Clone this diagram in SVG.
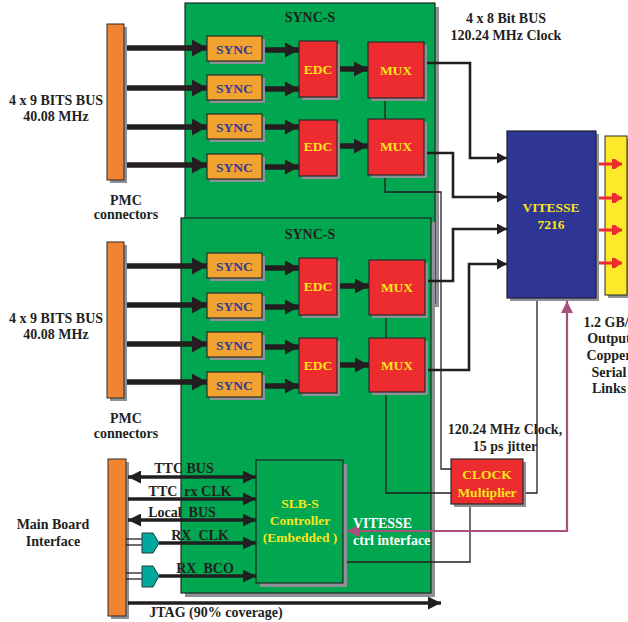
<svg xmlns="http://www.w3.org/2000/svg" width="628" height="622" viewBox="0 0 628 622">
<style>
text{font-family:"Liberation Serif","Times New Roman",serif;font-weight:bold;}
.lbl{font-size:14px;fill:#231f20;text-anchor:middle;}
.shd{fill:#8e9196;}
.board{fill:#00a650;stroke:#1f2a22;stroke-width:1.2;}
.bar{fill:#f08433;stroke:#2b2b2b;stroke-width:1;}
.sync{fill:#f2a22e;stroke:#2b2b2b;stroke-width:1.2;}
.red{fill:#ec2c2e;stroke:#2b2b2b;stroke-width:1.2;}
.synct{font-size:13.5px;fill:#2e3b97;text-anchor:middle;}
.yt{font-size:13.5px;fill:#f9e51c;text-anchor:middle;}
.thick{stroke:#231f20;stroke-width:5.5;fill:none;}
.med{stroke:#231f20;stroke-width:2.6;fill:none;}
.thin{stroke:#231f20;stroke-width:1.3;fill:none;}
.bot{stroke:#231f20;stroke-width:3.5;fill:none;}
.buf{fill:#00a99d;stroke:#1f3a38;stroke-width:1;}
.redl{stroke:#ec2c2e;stroke-width:3;fill:none;}
</style>
<defs>
<marker id="ah" markerUnits="userSpaceOnUse" markerWidth="15" markerHeight="17" refX="15" refY="8.5" orient="auto"><path d="M0,0 L15,8.5 L0,17 z" fill="#231f20"/></marker>
<marker id="am" markerUnits="userSpaceOnUse" markerWidth="14" markerHeight="15" refX="14" refY="7.5" orient="auto"><path d="M0,0 L14,7.5 L0,15 z" fill="#231f20"/></marker>
<marker id="as" markerUnits="userSpaceOnUse" markerWidth="10" markerHeight="11" refX="10" refY="5.5" orient="auto"><path d="M0,0 L10,5.5 L0,11 z" fill="#231f20"/></marker>
<marker id="ab" markerUnits="userSpaceOnUse" markerWidth="13" markerHeight="13" refX="13" refY="6.5" orient="auto-start-reverse"><path d="M0,0 L13,6.5 L0,13 z" fill="#231f20"/></marker>
<marker id="ar" markerUnits="userSpaceOnUse" markerWidth="10" markerHeight="10" refX="10" refY="5" orient="auto"><path d="M0,0 L3,0 L10,5 L3,10 L0,10 z" fill="#ec2c2e"/></marker>
<marker id="ap" markerUnits="userSpaceOnUse" markerWidth="12" markerHeight="12" refX="12" refY="6" orient="auto-start-reverse"><path d="M0,0 L12,6 L0,12 z" fill="#a8507e"/></marker>
</defs>

<!-- Board 1 -->
<g id="board1">
<rect class="shd" x="189" y="7" width="250" height="300"/>
<rect class="board" x="185" y="3" width="250" height="300"/>
<text class="lbl" x="310" y="22" fill="#1a2a20">SYNC-S</text>
</g>

<!-- Board 2 -->
<g id="board2">
<rect class="shd" x="185" y="222" width="250" height="375"/>
<rect class="board" x="181" y="218" width="250" height="375"/>
<text class="lbl" x="310" y="239">SYNC-S</text>
</g>

<!-- Orange bars -->
<g id="pmc1"><rect class="shd" x="110" y="27" width="17" height="156"/><rect class="bar" x="107" y="24" width="17" height="156"/></g>
<g id="pmc2"><rect class="shd" x="110" y="245" width="17" height="156"/><rect class="bar" x="107" y="242" width="17" height="156"/></g>
<g id="mbi"><rect class="shd" x="111" y="462" width="18" height="157"/><rect class="bar" x="108" y="459" width="18" height="157"/></g>

<!-- Yellow output bar -->
<g id="outbar"><rect class="shd" x="608" y="139" width="22" height="159"/><rect fill="#fde92a" stroke="#2b2b2b" stroke-width="1" x="605" y="136" width="22" height="159"/></g>

<!-- connectors -->
<g id="connectors">
<line class="thick" x1="127" y1="48" x2="207" y2="48" marker-end="url(#ah)"/>
<line class="thick" x1="127" y1="88" x2="207" y2="88" marker-end="url(#ah)"/>
<line class="thick" x1="127" y1="127" x2="207" y2="127" marker-end="url(#ah)"/>
<line class="thick" x1="127" y1="165" x2="207" y2="165" marker-end="url(#ah)"/>
<line class="thick" x1="127" y1="266" x2="207" y2="266" marker-end="url(#ah)"/>
<line class="thick" x1="127" y1="305" x2="207" y2="305" marker-end="url(#ah)"/>
<line class="thick" x1="127" y1="344" x2="207" y2="344" marker-end="url(#ah)"/>
<line class="thick" x1="127" y1="382" x2="207" y2="382" marker-end="url(#ah)"/>

<line class="thick" x1="264" y1="50" x2="299" y2="50" marker-end="url(#am)"/>
<line class="thick" x1="264" y1="89" x2="299" y2="89" marker-end="url(#am)"/>
<line class="thick" x1="264" y1="127" x2="299" y2="127" marker-end="url(#am)"/>
<line class="thick" x1="264" y1="167" x2="299" y2="167" marker-end="url(#am)"/>
<line class="thick" x1="264" y1="268" x2="299" y2="268" marker-end="url(#am)"/>
<line class="thick" x1="264" y1="307" x2="299" y2="307" marker-end="url(#am)"/>
<line class="thick" x1="264" y1="347" x2="299" y2="347" marker-end="url(#am)"/>
<line class="thick" x1="264" y1="386" x2="299" y2="386" marker-end="url(#am)"/>

<line class="thick" x1="337" y1="69" x2="368" y2="69" marker-end="url(#am)"/>
<line class="thick" x1="337" y1="146" x2="368" y2="146" marker-end="url(#am)"/>
<line class="thick" x1="337" y1="286" x2="369" y2="286" marker-end="url(#am)"/>
<line class="thick" x1="337" y1="365" x2="369" y2="365" marker-end="url(#am)"/>

<line class="thin" x1="385" y1="98" x2="385" y2="119"/>
<line class="thin" x1="386" y1="315" x2="386" y2="338"/>
<polyline class="thin" points="385,175 385,192 441,192 441,469 451,469"/>
<polyline class="thin" points="386,392 386,493 451,493"/>
<polyline class="thin" points="523,493 537,493 537,300"/>
<polyline class="thin" points="470,504 470,562 347,562"/>

<polyline class="med" points="424,63 470,63 470,158 507,158" marker-end="url(#as)"/>
<polyline class="med" points="424,153 453,153 453,197 507,197" marker-end="url(#as)"/>
<polyline class="med" points="424,281 453,281 453,229 507,229" marker-end="url(#as)"/>
<polyline class="med" points="424,370 469,370 469,264 507,264" marker-end="url(#as)"/>

<line class="redl" x1="597" y1="164" x2="622" y2="164" marker-end="url(#ar)"/>
<line class="redl" x1="597" y1="198" x2="622" y2="198" marker-end="url(#ar)"/>
<line class="redl" x1="597" y1="230" x2="622" y2="230" marker-end="url(#ar)"/>
<line class="redl" x1="597" y1="263" x2="622" y2="263" marker-end="url(#ar)"/>

<polyline fill="none" stroke="#a8507e" stroke-width="2.2" points="567,301 567,531 347,531" marker-start="url(#ap)" marker-end="url(#ap)"/>

<line class="bot" stroke-width="4" x1="128" y1="477" x2="256" y2="477" marker-start="url(#ab)" marker-end="url(#ab)"/>
<line class="bot" stroke-width="3" x1="128" y1="499" x2="256" y2="499" marker-end="url(#ab)"/>
<line class="bot" stroke-width="4" x1="128" y1="520" x2="256" y2="520" marker-start="url(#ab)" marker-end="url(#ab)"/>
<line class="bot" stroke-width="3" x1="159" y1="543" x2="256" y2="543" marker-end="url(#ab)"/>
<line class="bot" stroke-width="3" x1="159" y1="576" x2="256" y2="576" marker-end="url(#ab)"/>
<line class="thin" x1="126" y1="539" x2="142" y2="539"/>
<line class="thin" x1="126" y1="545" x2="142" y2="545"/>
<line class="thin" x1="126" y1="573" x2="142" y2="573"/>
<line class="thin" x1="126" y1="579" x2="142" y2="579"/>
<line class="bot" stroke-width="3" x1="128" y1="603" x2="441" y2="603" marker-end="url(#ab)"/>
</g>

<!-- SYNC boxes -->
<g id="sync1"><rect class="shd" x="210" y="39" width="55" height="25"/><rect class="sync" x="207" y="36" width="55" height="25"/><text class="synct" x="234.5" y="53.5">SYNC</text></g>
<g id="sync2"><rect class="shd" x="210" y="78" width="55" height="25"/><rect class="sync" x="207" y="75" width="55" height="25"/><text class="synct" x="234.5" y="92.5">SYNC</text></g>
<g id="sync3"><rect class="shd" x="210" y="117" width="55" height="25"/><rect class="sync" x="207" y="114" width="55" height="25"/><text class="synct" x="234.5" y="131.5">SYNC</text></g>
<g id="sync4"><rect class="shd" x="210" y="157" width="55" height="25"/><rect class="sync" x="207" y="154" width="55" height="25"/><text class="synct" x="234.5" y="171.5">SYNC</text></g>
<g id="sync5"><rect class="shd" x="210" y="256" width="55" height="25"/><rect class="sync" x="207" y="253" width="55" height="25"/><text class="synct" x="234.5" y="270.5">SYNC</text></g>
<g id="sync6"><rect class="shd" x="210" y="296" width="55" height="25"/><rect class="sync" x="207" y="293" width="55" height="25"/><text class="synct" x="234.5" y="310.5">SYNC</text></g>
<g id="sync7"><rect class="shd" x="210" y="335" width="55" height="25"/><rect class="sync" x="207" y="332" width="55" height="25"/><text class="synct" x="234.5" y="349.5">SYNC</text></g>
<g id="sync8"><rect class="shd" x="210" y="375" width="55" height="25"/><rect class="sync" x="207" y="372" width="55" height="25"/><text class="synct" x="234.5" y="389.5">SYNC</text></g>

<!-- EDC -->
<g id="edc1"><rect class="shd" x="302" y="44" width="38" height="56"/><rect class="red" x="299" y="41" width="38" height="56"/><text class="yt" x="318" y="74">EDC</text></g>
<g id="edc2"><rect class="shd" x="302" y="123" width="38" height="56"/><rect class="red" x="299" y="120" width="38" height="56"/><text class="yt" x="318" y="150.5">EDC</text></g>
<g id="edc3"><rect class="shd" x="302" y="261" width="38" height="57"/><rect class="red" x="299" y="258" width="38" height="57"/><text class="yt" x="318" y="290.5">EDC</text></g>
<g id="edc4"><rect class="shd" x="302" y="341" width="38" height="55"/><rect class="red" x="299" y="338" width="38" height="55"/><text class="yt" x="318" y="369.5">EDC</text></g>

<!-- MUX -->
<g id="mux1"><rect class="shd" x="371" y="45" width="56" height="56"/><rect class="red" x="368" y="42" width="56" height="56"/><text class="yt" x="396" y="74.5">MUX</text></g>
<g id="mux2"><rect class="shd" x="371" y="122" width="56" height="56"/><rect class="red" x="368" y="119" width="56" height="56"/><text class="yt" x="396" y="150.5">MUX</text></g>
<g id="mux3"><rect class="shd" x="372" y="263" width="56" height="55"/><rect class="red" x="369" y="260" width="56" height="55"/><text class="yt" x="397" y="291.5">MUX</text></g>
<g id="mux4"><rect class="shd" x="372" y="341" width="56" height="54"/><rect class="red" x="369" y="338" width="56" height="54"/><text class="yt" x="397" y="369.5">MUX</text></g>

<!-- VITESSE -->
<g id="vitesse"><rect class="shd" x="510" y="134" width="89" height="167"/><rect fill="#2e3592" stroke="#1e1e3a" stroke-width="1.2" x="507" y="131" width="89" height="167"/><text class="yt" x="551" y="212">VITESSE</text><text class="yt" x="551" y="229">7216</text></g>

<!-- CLOCK Multiplier -->
<g id="clock"><rect class="shd" x="454" y="462" width="72" height="45"/><rect class="red" x="451" y="459" width="72" height="45"/><text class="yt" x="487" y="479">CLOCK</text><text class="yt" x="487" y="497">Multiplier</text></g>

<!-- SLB-S -->
<g id="slbs"><rect class="shd" x="260" y="464" width="87" height="123"/><rect class="board" x="256" y="460" width="87" height="123"/><text class="yt" x="300" y="508">SLB-S</text><text class="yt" x="300" y="525">Controller</text><text class="yt" x="300" y="542" xml:space="preserve">(Embedded )</text></g>

<!-- buffers -->
<g id="buf1"><path class="buf" d="M142,533 L153,533 L159,543 L153,553 L142,553 z"/></g>
<g id="buf2"><path class="buf" d="M142,566 L153,566 L159,576 L153,587 L142,587 z"/></g>

<!-- labels -->
<g id="labels">
<text class="lbl" x="56" y="105">4 x 9 BITS BUS</text>
<text class="lbl" x="56" y="121">40.08 MHz</text>
<text class="lbl" x="126" y="205" font-size="12.5">PMC</text>
<text class="lbl" x="126" y="219" font-size="12.5">connectors</text>
<text class="lbl" x="56" y="323">4 x 9 BITS BUS</text>
<text class="lbl" x="56" y="339">40.08 MHz</text>
<text class="lbl" x="126" y="423" font-size="12.5">PMC</text>
<text class="lbl" x="126" y="438" font-size="12.5">connectors</text>
<text class="lbl" x="506" y="23">4 x 8 Bit BUS</text>
<text class="lbl" x="506" y="40">120.24 MHz Clock</text>
<text class="lbl" x="505" y="434">120.24 MHz Clock,</text>
<text class="lbl" x="505" y="451">15 ps jitter</text>
<text class="lbl" x="583.5" y="327" style="text-anchor:start">1.2 GB/</text>
<text class="lbl" x="609" y="343">Output</text>
<text class="lbl" x="609" y="360">Copper</text>
<text class="lbl" x="609" y="377">Serial</text>
<text class="lbl" x="609" y="393">Links</text>
<text class="lbl" x="53" y="529">Main Board</text>
<text class="lbl" x="53" y="546">Interface</text>
<text class="lbl" x="184" y="473">TTC BUS</text>
<text class="lbl" x="190" y="496" xml:space="preserve">TTC  rx CLK</text>
<text class="lbl" x="182" y="517" xml:space="preserve">Local  BUS</text>
<text class="lbl" x="200" y="540" xml:space="preserve">RX  CLK</text>
<text class="lbl" x="205" y="573" xml:space="preserve">RX  BCO</text>
<text class="lbl" x="216" y="617">JTAG (90% coverage)</text>
<text x="353" y="528" font-size="14" fill="#ffffff">VITESSE</text>
<text x="353" y="545" font-size="14" fill="#ffffff">ctrl interface</text>
</g>
</svg>
